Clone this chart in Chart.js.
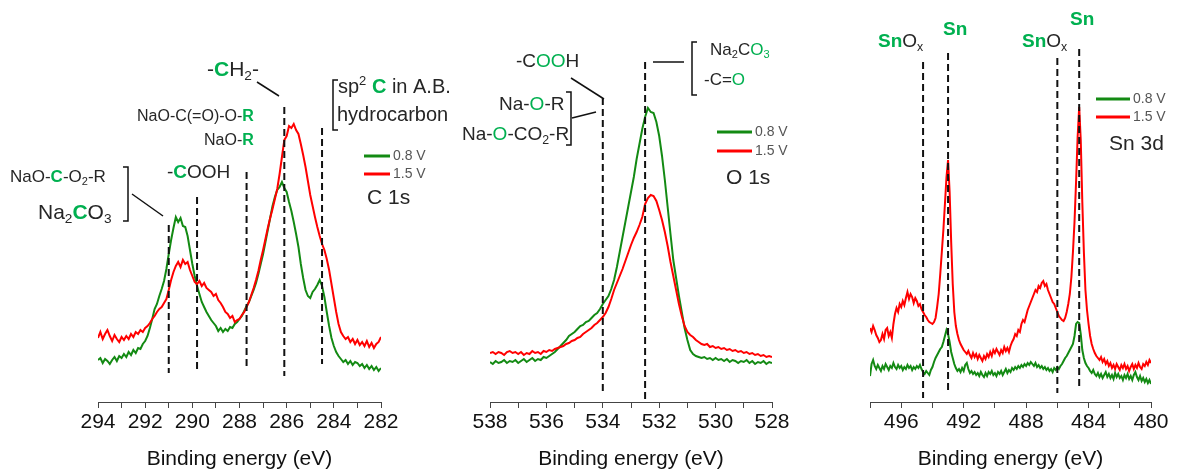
<!DOCTYPE html>
<html>
<head>
<meta charset="utf-8">
<script src="https://cdn.jsdelivr.net/npm/chart.js@4"></script>
<style>
  html, body { margin: 0; padding: 0; background: #fff; }
  #wrap { position: relative; width: 1179px; height: 475px; overflow: hidden; }
  canvas { position: absolute; top: 0; }
</style>
</head>
<body>
<div id="wrap">
  <canvas id="c1s" width="470" height="475" style="left:0px"></canvas>
  <canvas id="o1s" width="370" height="475" style="left:430px"></canvas>
  <canvas id="sn3d" width="349" height="475" style="left:830px"></canvas>
</div>
<script>
// ---- data (intensity in arbitrary units, energy grid step 0.1 eV, high -> low BE) ----
const seriesNames = ['0.8 V', '1.5 V'];
const step = 0.1;

// C 1s: 294.0 -> 282.0 eV
const c1sStart = 294.0;
const c1s_08 = [
  42,44,39,43,41,38,42,45,41,46,
  44,48,45,50,47,52,49,54,53,58,
  61,66,74,83,93,98,106,113,121,133,
  148,162,174,185,180,184,176,175,166,152,
  138,126,116,108,100,95,90,86,82,79,
  76,71,74,70,73,71,75,74,78,80,
  83,86,91,96,100,106,112,119,128,138,
  148,160,172,184,196,205,212,215,220,214,
  210,200,191,180,168,155,138,124,112,106,
  104,110,113,117,122,116,105,90,76,64,
  56,50,46,43,40,42,38,41,37,40,
  39,36,38,34,37,33,36,32,35,31,
  34
];
const c1s_15 = [
  64,70,63,68,72,66,61,67,63,60,
  65,62,66,63,68,65,70,68,72,70,
  74,76,79,83,86,90,93,95,99,103,
  112,122,130,136,140,135,142,138,140,132,
  126,120,118,121,116,119,114,112,110,106,
  108,102,99,95,90,88,84,86,80,82,
  83,87,90,95,100,107,114,122,131,142,
  152,163,174,184,193,203,213,228,245,262,
  266,276,274,278,272,268,258,247,235,221,
  207,196,185,175,166,158,152,143,132,118,
  104,90,78,70,66,63,65,60,63,58,
  62,57,60,56,61,55,59,54,58,60,
  65
];
const c1sMarks = [291.0, 289.8, 287.7, 286.1, 284.5];

// O 1s: 538.0 -> 528.0 eV
const o1sStart = 538.0;
const o1s_08 = [
  40,38,41,39,40,42,39,41,40,42,
  39,41,43,40,42,44,41,43,42,45,
  44,46,48,50,53,56,59,62,66,68,
  70,73,76,77,80,81,84,87,89,93,
  98,102,106,113,122,135,150,165,180,195,
  210,225,243,258,273,285,294,290,289,280,
  266,246,222,195,168,142,124,106,90,74,
  62,52,48,46,45,44,45,43,44,42,
  44,42,43,41,43,40,42,41,39,41,
  40,42,39,41,38,40,39,41,38,40,
  39
];
const o1s_15 = [
  49,50,48,50,49,47,50,51,49,50,
  48,50,47,49,48,51,49,50,48,51,
  50,52,51,53,54,55,56,58,59,61,
  62,64,65,68,70,72,74,77,79,82,
  85,89,95,103,112,119,126,133,141,149,
  157,164,170,177,185,198,204,207,206,201,
  192,182,170,156,140,126,112,98,86,76,
  70,67,65,62,60,58,57,58,55,56,
  54,55,53,54,52,53,51,52,50,51,
  49,50,48,49,47,48,46,47,45,46,
  45
];
const o1sMarks = [534.0, 532.5];

// Sn 3d: 498.0 -> 480.0 eV
const sn3dStart = 498.0;
const sn3d_08 = [
  26,38,42,36,33,37,34,31,36,33,
  38,35,32,36,34,39,35,33,37,34,
  36,32,35,33,37,34,36,32,35,33,
  36,34,37,33,30,28,31,29,27,32,
  35,40,44,47,50,53,55,60,66,72,
  68,60,50,44,38,34,31,33,30,34,
  31,37,39,33,29,31,28,30,27,29,
  26,30,27,25,29,26,30,28,31,27,
  29,26,30,28,31,27,30,33,29,32,
  30,34,32,35,33,36,34,37,35,38,
  36,39,37,40,38,36,39,35,37,34,
  36,33,35,32,34,31,33,30,34,32,
  35,33,36,38,41,44,46,49,52,55,
  58,66,78,80,79,68,52,44,39,36,
  34,31,29,32,28,26,29,25,28,24,
  27,30,25,28,24,27,23,29,25,28,
  24,26,22,27,24,28,23,26,22,27,
  30,25,22,26,21,24,20,23,19,22,
  18
];
const sn3d_15 = [
  74,70,76,72,67,64,60,62,68,63,
  72,74,66,70,64,78,88,94,90,98,
  95,101,97,104,110,103,108,105,99,104,
  101,96,98,93,90,87,85,82,80,79,
  78,80,84,95,108,128,150,172,198,225,
  242,210,160,118,90,76,68,62,58,55,
  52,50,48,51,47,44,49,45,48,43,
  47,44,41,46,43,48,45,50,46,52,
  49,53,50,47,52,49,55,51,54,50,
  56,60,63,68,66,72,70,78,82,80,
  86,92,96,100,104,108,112,110,116,114,
  119,121,116,118,112,108,104,100,98,94,
  90,86,84,82,81,84,90,98,108,125,
  150,180,220,265,295,262,200,150,112,92,
  78,66,58,53,49,46,44,42,45,40,
  43,38,41,36,39,34,37,33,38,35,
  32,37,34,38,33,36,31,35,38,33,
  37,34,39,35,33,38,36,40,37,42,
  39
];
const sn3dMarks = [494.6, 493.0, 486.0, 484.6];

// ---- styling ----
const FONT = '"Liberation Sans", Arial, sans-serif';
const GREEN = '#138a13';
const RED = '#ff0000';
const GREEN_TXT = '#00b050';
const TXT = '#262626';
Chart.defaults.font.family = FONT;

function toPoints(start, vals) {
  return vals.map((v, i) => ({ x: Math.round((start - i * step) * 10) / 10, y: v }));
}

// mixed-style text: n normal, g green, G green bold, s subscript, S green subscript, p superscript
function rich(ctx, x, y, size, parts) {
  let cx = x;
  ctx.textBaseline = 'middle';
  ctx.textAlign = 'left';
  parts.forEach(([s, st]) => {
    const small = st === 's' || st === 'S' || st === 'p';
    const fs = small ? size * 0.65 : size;
    ctx.font = (st === 'G' ? 'bold ' : '') + fs + 'px ' + FONT;
    ctx.fillStyle = (st === 'g' || st === 'G' || st === 'S') ? GREEN_TXT : TXT;
    const dy = (st === 's' || st === 'S') ? size * 0.3 : st === 'p' ? -size * 0.3 : 0;
    ctx.fillText(s, cx, y + dy);
    cx += ctx.measureText(s).width;
  });
}

function makeNotes(cfg) {
  return {
    id: 'notes',
    afterDatasetsDraw(chart) {
      const { ctx, scales: { x, y } } = chart;
      ctx.save();
      // dashed reference lines at the marked binding energies
      ctx.strokeStyle = '#111';
      ctx.lineWidth = 2;
      ctx.setLineDash([7, 4]);
      cfg.marks.forEach((e, i) => {
        const px = x.getPixelForValue(e);
        ctx.beginPath();
        ctx.moveTo(px, y.getPixelForValue(cfg.spans[i][0]));
        ctx.lineTo(px, y.getPixelForValue(cfg.spans[i][1]));
        ctx.stroke();
      });
      ctx.setLineDash([]);
      ctx.lineWidth = 1.5;
      (cfg.lines || []).forEach(([x0, y0, x1, y1]) => {
        ctx.beginPath(); ctx.moveTo(x0, y0); ctx.lineTo(x1, y1); ctx.stroke();
      });
      (cfg.brackets || []).forEach(([bx, y0, y1, dir]) => {
        ctx.beginPath();
        ctx.moveTo(bx + dir * 5, y0); ctx.lineTo(bx, y0);
        ctx.lineTo(bx, y1); ctx.lineTo(bx + dir * 5, y1);
        ctx.stroke();
      });
      // legend
      const lg = cfg.legend;
      [GREEN, RED].forEach((c, i) => {
        const ly = lg.y + i * lg.gap;
        ctx.strokeStyle = c;
        ctx.lineWidth = 3;
        ctx.beginPath(); ctx.moveTo(lg.x0, ly); ctx.lineTo(lg.x1, ly); ctx.stroke();
        ctx.font = '14px ' + FONT;
        ctx.fillStyle = '#555';
        ctx.textBaseline = 'middle';
        ctx.fillText(seriesNames[i], lg.x1 + 3, ly);
      });
      rich(ctx, lg.tx, lg.ty, 21, [[lg.title, 'n']]);
      cfg.texts.forEach(t => rich(ctx, t[0], t[1], t[2], t[3]));
      ctx.restore();
    }
  };
}

function makeChart(id, start, green, red, range, tickStep, labelEvery, pad, notes) {
  new Chart(document.getElementById(id), {
    type: 'line',
    data: {
      datasets: [
        { label: seriesNames[1], data: toPoints(start, red), borderColor: RED },
        { label: seriesNames[0], data: toPoints(start, green), borderColor: GREEN }
      ]
    },
    options: {
      responsive: false,
      animation: false,
      events: [],
      layout: { padding: { left: pad[0], right: pad[1], top: 72, bottom: 0 } },
      elements: { point: { radius: 0 }, line: { borderWidth: 2, tension: 0 } },
      plugins: { legend: { display: false }, tooltip: { enabled: false } },
      scales: {
        x: {
          type: 'linear', reverse: true, min: range[0], max: range[1],
          afterFit: s => { s.height = 73; },
          ticks: {
            stepSize: tickStep, autoSkip: false, maxRotation: 0, padding: 2,
            color: '#111', font: { size: 21 },
            callback: v => (v % labelEvery === 0 ? String(v) : '')
          },
          grid: { drawOnChartArea: false, tickLength: 6, color: '#444' },
          border: { color: '#444', width: 1 },
          title: {
            display: true, text: 'Binding energy (eV)', color: '#111',
            font: { size: 21 }, padding: { top: 0, bottom: 3 }
          }
        },
        y: { display: false, min: 0, max: 330 }
      }
    },
    plugins: [makeNotes(notes)]
  });
}

makeChart('c1s', c1sStart, c1s_08, c1s_15, [282, 294], 1, 2, [98, 89], {
  marks: c1sMarks,
  spans: [[177, 29], [205, 33], [230, 35], [295, 26], [274, 38]],
  lines: [[132, 194, 163, 216], [257, 82, 279, 96]],
  brackets: [[128, 167, 221, -1], [333, 80, 130, 1]],
  legend: { x0: 364, x1: 390, y: 156, gap: 18, tx: 367, ty: 198, title: 'C 1s' },
  texts: [
    [10, 177, 17, [['NaO-', 'n'], ['C', 'G'], ['-O', 'n'], ['2', 's'], ['-R', 'n']]],
    [38, 213, 21, [['Na', 'n'], ['2', 's'], ['C', 'G'], ['O', 'n'], ['3', 's']]],
    [167, 173, 19, [['-', 'n'], ['C', 'G'], ['OOH', 'n']]],
    [137, 117, 16, [['NaO-C(=O)-O-', 'n'], ['R', 'G']]],
    [204, 141, 16, [['NaO-', 'n'], ['R', 'G']]],
    [207, 70, 21, [['-', 'n'], ['C', 'G'], ['H', 'n'], ['2', 's'], ['-', 'n']]],
    [338, 87, 20, [['sp', 'n'], ['2', 'p'], [' ', 'n'], ['C', 'G'], [' in A.B.', 'n']]],
    [337, 115, 20, [['hydrocarbon', 'n']]]
  ]
});

makeChart('o1s', o1sStart, o1s_08, o1s_15, [528, 538], 1, 2, [60, 28], {
  marks: o1sMarks,
  spans: [[304, 9], [340, 3]],
  lines: [[141, 78, 174, 99], [142, 118, 166, 112], [223, 62, 254, 62]],
  brackets: [[141, 92, 145, -1], [262, 42, 95, 1]],
  legend: { x0: 287, x1: 322, y: 132, gap: 19, tx: 296, ty: 178, title: 'O 1s' },
  texts: [
    [86, 62, 19, [['-C', 'n'], ['OO', 'g'], ['H', 'n']]],
    [69, 105, 19, [['Na-', 'n'], ['O', 'g'], ['-R', 'n']]],
    [32, 135, 19, [['Na-', 'n'], ['O', 'g'], ['-CO', 'n'], ['2', 's'], ['-R', 'n']]],
    [280, 50, 17, [['Na', 'n'], ['2', 's'], ['C', 'n'], ['O', 'g'], ['3', 'S']]],
    [274, 80, 17, [['-C=', 'n'], ['O', 'g']]]
  ]
});

makeChart('sn3d', sn3dStart, sn3d_08, sn3d_15, [480, 498], 2, 4, [40, 28], {
  marks: sn3dMarks,
  spans: [[340, 4], [349, 12], [344, 9], [353, 15]],
  legend: { x0: 266, x1: 300, y: 99, gap: 18, tx: 279, ty: 144, title: 'Sn 3d' },
  texts: [
    [48, 42, 19, [['Sn', 'G'], ['O', 'n'], ['x', 's']]],
    [113, 30, 19, [['Sn', 'G']]],
    [192, 42, 19, [['Sn', 'G'], ['O', 'n'], ['x', 's']]],
    [240, 20, 19, [['Sn', 'G']]]
  ]
});
</script>
</body>
</html>
